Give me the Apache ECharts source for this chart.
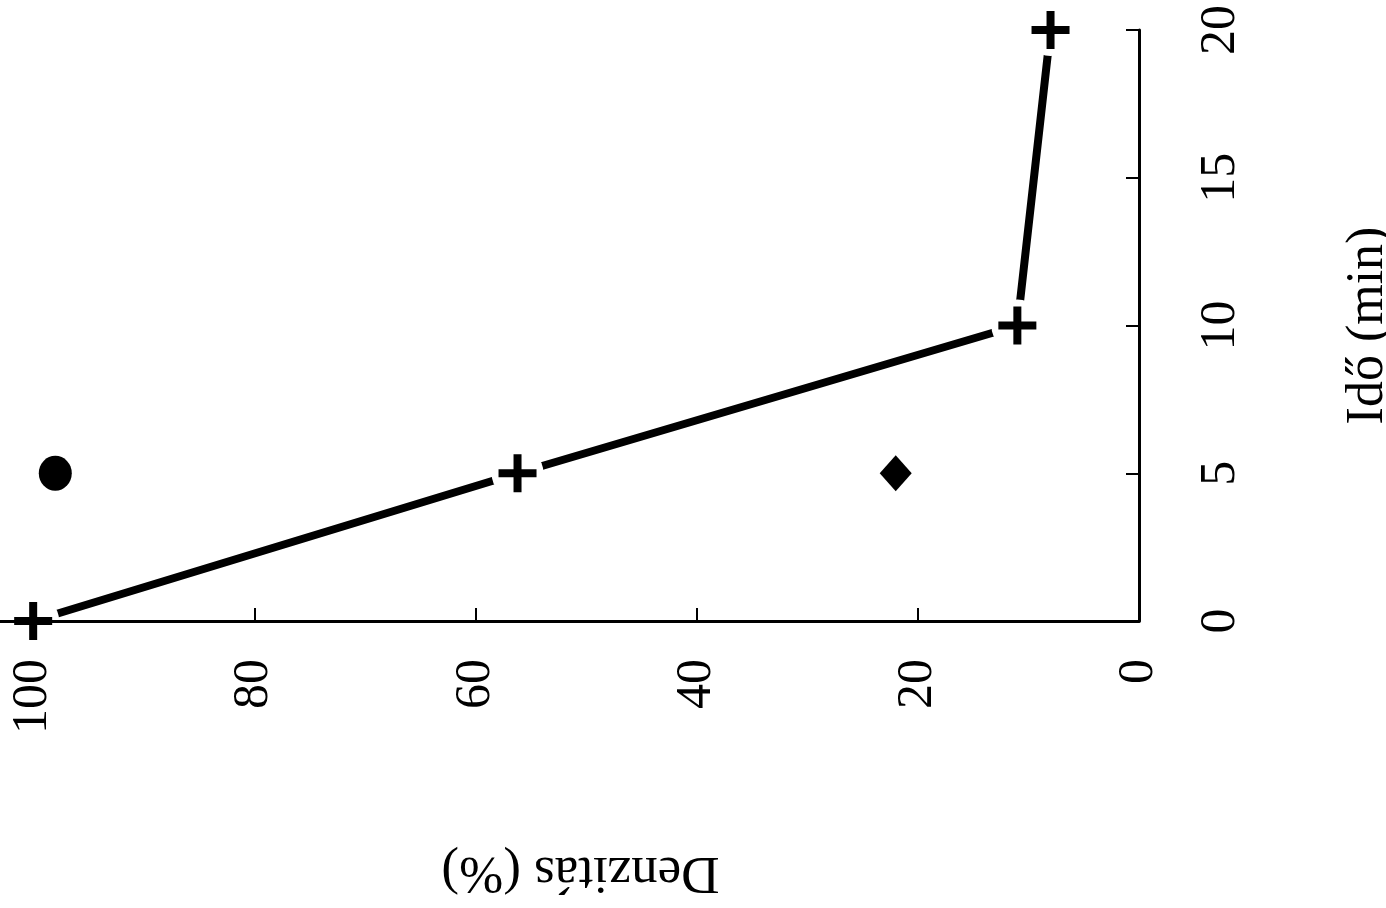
<!DOCTYPE html>
<html>
<head>
<meta charset="utf-8">
<title>Denzitás – idő</title>
<script src="https://cdn.jsdelivr.net/npm/echarts@6/dist/echarts.min.js"></script>
<style>
  html, body { margin: 0; padding: 0; background: #fff; }
  #chart { width: 1386px; height: 908px; }
</style>
</head>
<body>
<div id="chart"></div>
<script>
// Time points (min) and measured density (%) of the main series
const times = [0, 5, 10, 20];
const density = [100, 56.2, 11, 8];

// Single reference measurements at 5 min
const circleTime = [5];
const circleDensity = [98];
const diamondTime = [5];
const diamondDensity = [22];

// Axis tick values
const densityTicks = [0, 20, 40, 60, 80, 100];
const timeTicks = [0, 5, 10, 15, 20];

const FONT = '"Liberation Serif", "Times New Roman", serif';
const PLUS = 'path://M0,15H15V0H23V15H38V23H23V38H15V23H0Z';

const mainPts = times.map((t, i) => [density[i], t]);
const circlePts = circleTime.map((t, i) => [circleDensity[i], t]);
const diamondPts = diamondTime.map((t, i) => [diamondDensity[i], t]);

const chart = echarts.init(document.getElementById('chart'), null, { renderer: 'canvas' });

chart.setOption({
  backgroundColor: '#ffffff',
  animation: false,
  grid: {
    left: 0, right: 247, top: 30, bottom: 287,
    containLabel: false,
    outerBoundsMode: 'none'
  },
  xAxis: {
    type: 'value',
    inverse: true,
    min: 0,
    max: 103,
    interval: 20,
    position: 'bottom',
    z: 6,
    name: 'Denzitás (%)',
    nameLocation: 'middle',
    nameRotate: 180,
    nameGap: 224,
    nameTextStyle: {
      fontFamily: FONT, fontSize: 53, color: '#000',
      padding: [0, 22, 0, 0]
    },
    splitLine: { show: false },
    axisLine: { lineStyle: { color: '#000', width: 3 } },
    axisTick: {
      inside: true, length: 13,
      customValues: densityTicks,
      lineStyle: { color: '#000', width: 2 }
    },
    axisLabel: {
      rotate: 90,
      margin: 38,
      customValues: densityTicks,
      fontFamily: FONT,
      fontSize: 50,
      color: '#000'
    }
  },
  yAxis: {
    type: 'value',
    min: 0,
    max: 20,
    interval: 5,
    position: 'right',
    name: 'Idő (min)',
    nameLocation: 'middle',
    nameRotate: 90,
    nameGap: 203,
    nameTextStyle: { fontFamily: FONT, fontSize: 52, color: '#000' },
    splitLine: { show: false },
    axisLine: { lineStyle: { color: '#000', width: 3 } },
    axisTick: {
      inside: true, length: 13,
      customValues: timeTicks,
      lineStyle: { color: '#000', width: 2 }
    },
    axisLabel: {
      rotate: 90,
      margin: 57,
      customValues: timeTicks,
      fontFamily: FONT,
      fontSize: 50,
      color: '#000'
    }
  },
  series: [
    {
      type: 'line',
      data: mainPts,
      showSymbol: false,
      z: 2,
      lineStyle: { color: '#000', width: 8 },
      silent: true
    },
    {
      // white halo that leaves a small gap between line and markers
      type: 'scatter',
      data: mainPts,
      symbol: 'circle',
      symbolSize: 52,
      z: 3,
      itemStyle: { color: '#fff', opacity: 1 },
      silent: true
    },
    {
      type: 'scatter',
      data: mainPts,
      symbol: PLUS,
      symbolSize: 38,
      z: 4,
      itemStyle: { color: '#000', opacity: 1 }
    },
    {
      type: 'scatter',
      data: circlePts,
      symbol: 'circle',
      symbolSize: [33, 35],
      z: 4,
      itemStyle: { color: '#000', opacity: 1 }
    },
    {
      type: 'scatter',
      data: diamondPts,
      symbol: 'diamond',
      symbolSize: [32, 36],
      z: 4,
      itemStyle: { color: '#000', opacity: 1 }
    }
  ]
});
</script>
</body>
</html>
